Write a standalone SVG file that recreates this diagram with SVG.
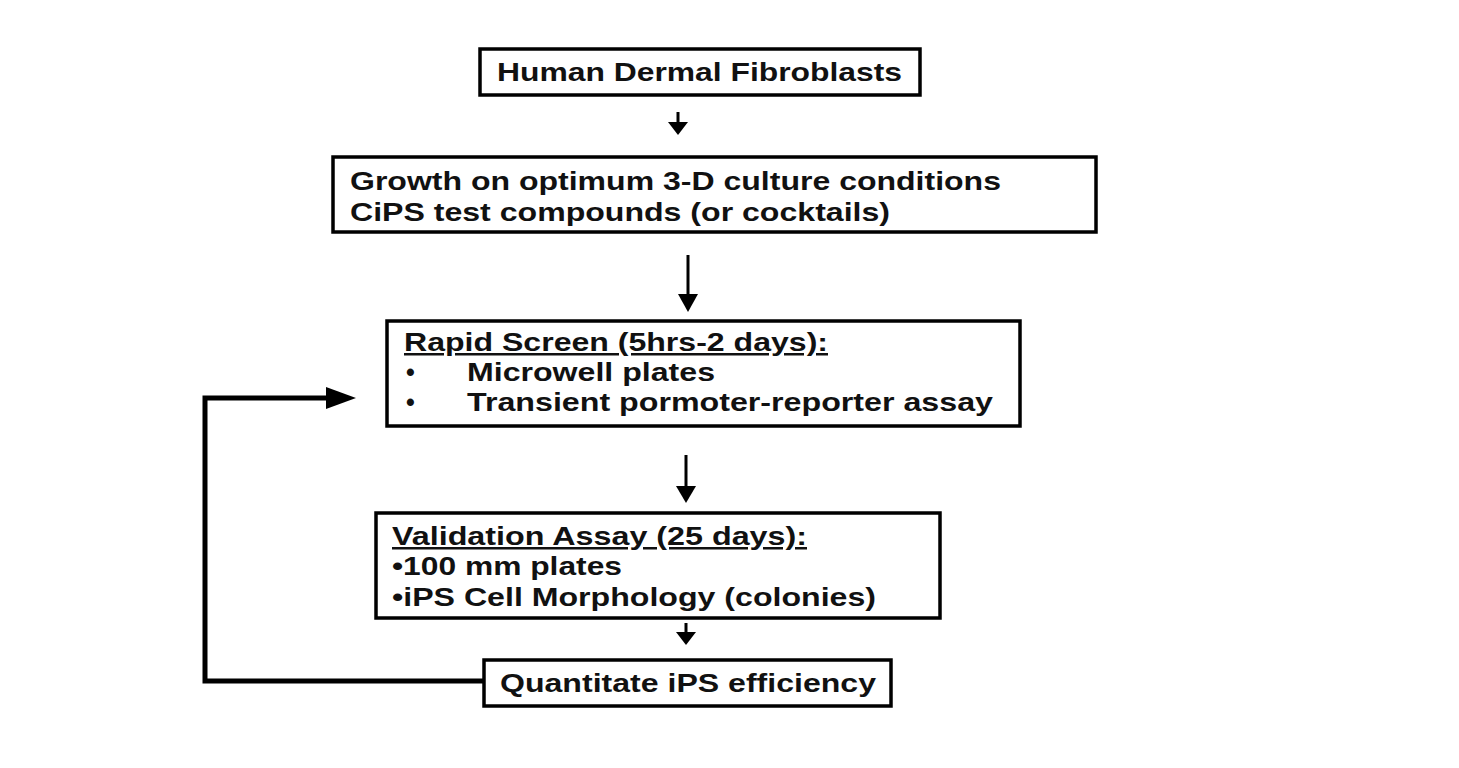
<svg xmlns="http://www.w3.org/2000/svg" width="1459" height="768" viewBox="0 0 1459 768">
<style>
.box{fill:#fff;stroke:#000;stroke-width:3.5}
.t{font-family:"Liberation Sans",Arial,sans-serif;font-weight:bold;font-size:25px;fill:#111}
.u{text-decoration:underline}
.ln{stroke:#000;stroke-width:3;fill:none}
.fb{stroke:#000;stroke-width:5;fill:none}
</style>
<rect width="1459" height="768" fill="#fff"/>
<g id="connectors">
<line class="ln" x1="678" y1="112" x2="678" y2="124"/>
<polygon points="668,122 688,122 678,135" fill="#000"/>
<line class="ln" x1="688" y1="255" x2="688" y2="298"/>
<polygon points="678,294 698,294 688,312" fill="#000"/>
<line class="ln" x1="686" y1="455" x2="686" y2="490"/>
<polygon points="676,486 696,486 686,503" fill="#000"/>
<line class="ln" x1="686" y1="623" x2="686" y2="634"/>
<polygon points="676,632 696,632 686,645" fill="#000"/>
<polyline class="fb" points="484,681 205,681 205,398 330,398"/>
<polygon points="326,387 356,398 326,409" fill="#000"/>
</g>
<g id="n1">
<rect class="box" x="480" y="49" width="440" height="46"/>
<text class="t" x="497" y="81" font-size="26" textLength="405" lengthAdjust="spacingAndGlyphs">Human Dermal Fibroblasts</text>
</g>
<g id="n2">
<rect class="box" x="333" y="157" width="763" height="75"/>
<text class="t" x="350" y="190" textLength="651" lengthAdjust="spacingAndGlyphs">Growth on optimum 3-D culture conditions</text>
<text class="t" x="350" y="221" textLength="540" lengthAdjust="spacingAndGlyphs">CiPS test compounds (or cocktails)</text>
</g>
<g id="n3">
<rect class="box" x="387" y="321" width="633" height="105"/>
<text class="t u" x="404" y="351" textLength="424" lengthAdjust="spacingAndGlyphs">Rapid Screen (5hrs-2 days):</text>
<text class="t" x="406" y="381">•</text>
<text class="t" x="467" y="381" textLength="248" lengthAdjust="spacingAndGlyphs">Microwell plates</text>
<text class="t" x="406" y="411">•</text>
<text class="t" x="467" y="411" textLength="526" lengthAdjust="spacingAndGlyphs">Transient pormoter-reporter assay</text>
</g>
<g id="n4">
<rect class="box" x="376" y="513" width="564" height="105"/>
<text class="t u" x="392" y="545" textLength="415" lengthAdjust="spacingAndGlyphs">Validation Assay (25 days):</text>
<text class="t" x="392" y="575" textLength="230" lengthAdjust="spacingAndGlyphs">•100 mm plates</text>
<text class="t" x="392" y="606" textLength="484" lengthAdjust="spacingAndGlyphs">•iPS Cell Morphology (colonies)</text>
</g>
<g id="n5">
<rect class="box" x="484" y="660" width="407" height="46"/>
<text class="t" x="500" y="692" textLength="376" lengthAdjust="spacingAndGlyphs">Quantitate iPS efficiency</text>
</g>
</svg>
